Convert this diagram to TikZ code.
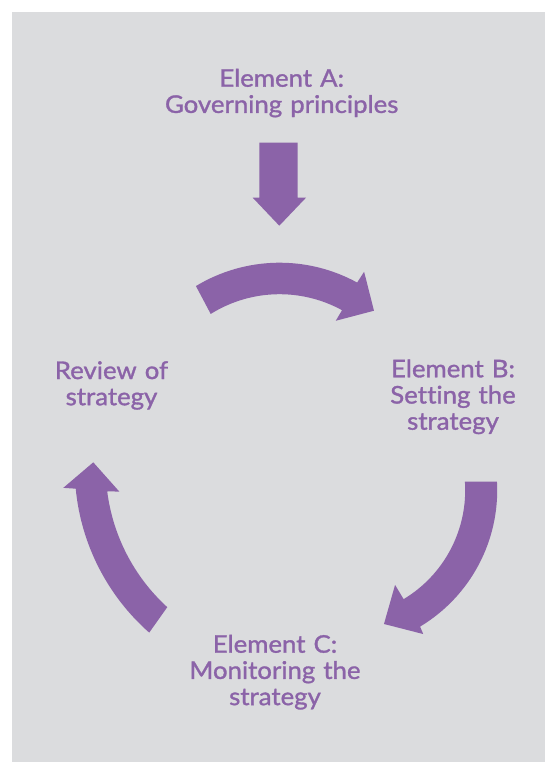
\documentclass[tikz,border=0pt]{standalone}
\usepackage{fontspec}
\setmainfont{Lato}
\newfontfamily\lblfont{Lato}[FakeStretch=1.06, FakeBold=1.3, Ligatures=NoCommon]
\definecolor{bgc}{HTML}{DBDCDE}
\definecolor{pur}{HTML}{8B63A8}
\tikzset{
  lbl/.style={text=pur, font=\lblfont\fontsize{24.3}{26.2}\selectfont, align=center, text width=260pt, inner sep=0pt, anchor=base},
  blockarrow/.style={fill=pur, draw=none}
}
\begin{document}
\begin{tikzpicture}[x=1pt,y=-1pt]
\useasboundingbox (0,0) rectangle (545,762);
\fill[bgc] (12,12) rectangle (545,762);

% text blocks
\node[lbl] (A) at (281.7,86.7) {Element A:\\Governing principles};
\node[lbl] (R) at (111.5,379) {Review of\\strategy};
\node[lbl] (B) at (453,377.3) {Element B:\\Set\kern0.3pt ting the\\strategy};
\node[lbl] (C) at (275,652.7) {Element C:\\Monitoring the\\strategy};

% down arrow
\fill[blockarrow] (259.3,142.7) -- (297.7,142.7) -- (297.7,197.7) -- (306,197.7)
  -- (279.3,225.7) -- (252.7,197.7) -- (259.3,197.7) -- cycle;

% top curved arrow
\begin{scope}[shift={(279.6,424.2)}, y=1pt]
\fill[blockarrow] (121.2:161.5) arc[start angle=121.2, end angle=61.3, radius=161.5]
  -- (61.0:174.3) -- (50.25:147.6) -- (61.5:117.7) -- (61.3:130)
  arc[start angle=61.3, end angle=122, radius=130] -- cycle;
\end{scope}

% right curved arrow
\begin{scope}[shift={(338.2,490.3)}, y=1pt]
\fill[blockarrow] (3.1:159) arc[start angle=3.1, end angle=-59, radius=159]
  -- (-59.4:167) -- (-71.1:141.3) -- (-59:110.4) -- (-59:127)
  arc[start angle=-59, end angle=3.9, radius=127] -- cycle;
\end{scope}

% left curved arrow
\begin{scope}[shift={(294.7,467.6)}, y=1pt]
\fill[blockarrow] (228.6:220) arc[start angle=228.6, end angle=185.5, radius=220]
  -- (185:232.3) -- (178.5:201.5) -- (187.8:177) -- (187.2:189)
  arc[start angle=187.2, end angle=227.6, radius=189] -- cycle;
\end{scope}
\end{tikzpicture}
\end{document}
